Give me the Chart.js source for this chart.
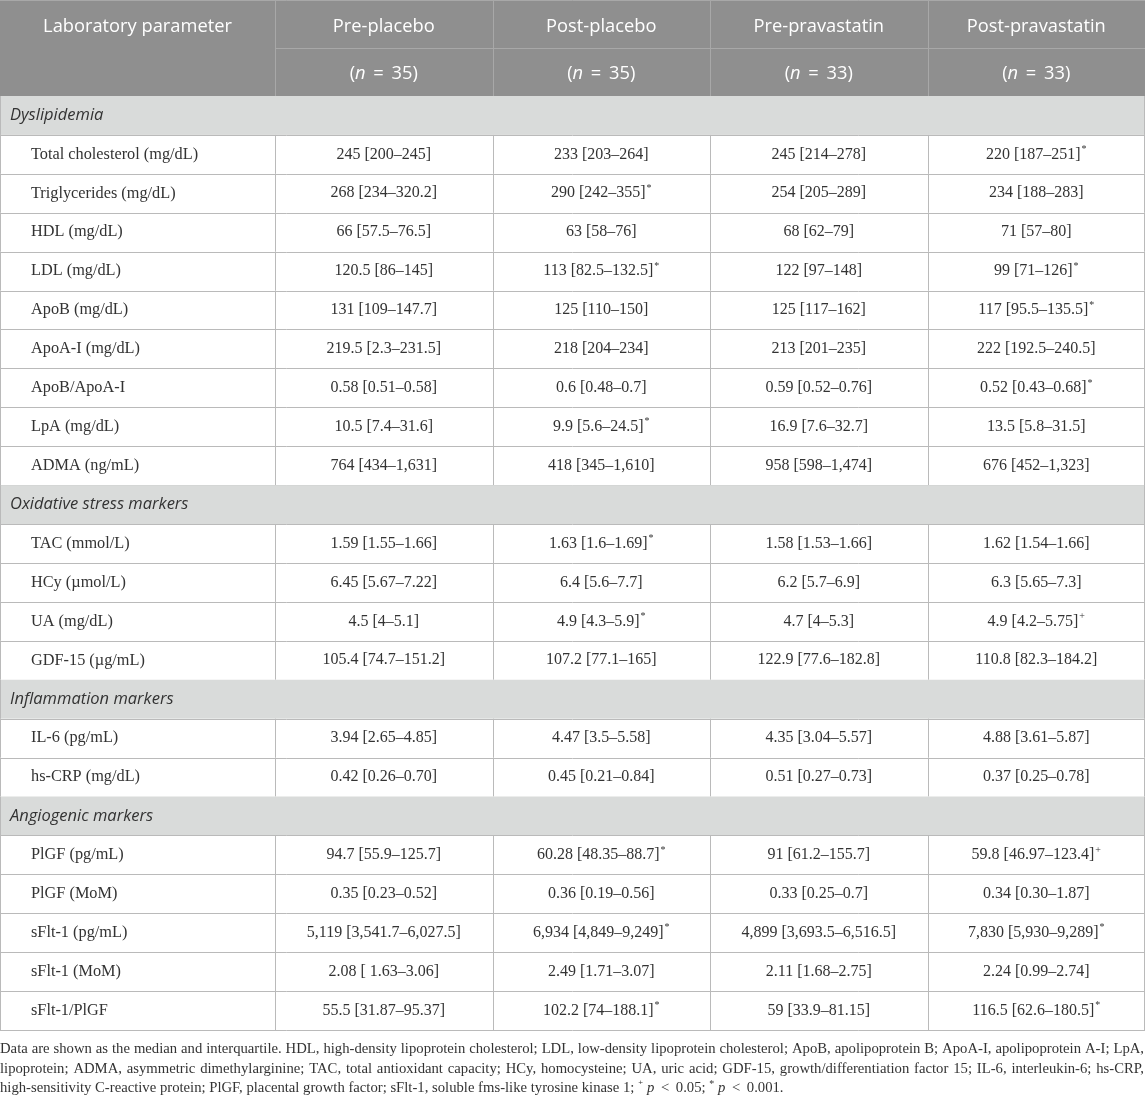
<!DOCTYPE html>
<html>
<head>
<meta charset="utf-8">
<script src="https://cdn.jsdelivr.net/npm/chart.js@4/dist/chart.umd.min.js"></script>
<style>
html,body{margin:0;padding:0;background:#fff;}
canvas{display:block;}
</style>
</head>
<body>
<canvas id="c" width="1145" height="1097" style="width:1145px;height:1097px"></canvas>
<script>
// ---------- DATA ----------
const groups = ['Pre-placebo', 'Post-placebo', 'Pre-pravastatin', 'Post-pravastatin'];
const groupN = [35, 35, 33, 33];
const sectionRows = ['Dyslipidemia', 'Oxidative stress markers', 'Inflammation markers', 'Angiogenic markers'];
const rowLabels = [
  'Dyslipidemia',
  'Total cholesterol (mg/dL)', 'Triglycerides (mg/dL)', 'HDL (mg/dL)', 'LDL (mg/dL)', 'ApoB (mg/dL)',
  'ApoA-I (mg/dL)', 'ApoB/ApoA-I', 'LpA (mg/dL)', 'ADMA (ng/mL)',
  'Oxidative stress markers',
  'TAC (mmol/L)', 'HCy (µmol/L)', 'UA (mg/dL)', 'GDF-15 (µg/mL)',
  'Inflammation markers',
  'IL-6 (pg/mL)', 'hs-CRP (mg/dL)',
  'Angiogenic markers',
  'PlGF (pg/mL)', 'PlGF (MoM)', 'sFlt-1 (pg/mL)', 'sFlt-1 (MoM)', 'sFlt-1/PlGF'
];
const prePlacebo = [
  null,
  '245 [200–245]', '268 [234–320.2]', '66 [57.5–76.5]', '120.5 [86–145]', '131 [109–147.7]',
  '219.5 [2.3–231.5]', '0.58 [0.51–0.58]', '10.5 [7.4–31.6]', '764 [434–1,631]',
  null,
  '1.59 [1.55–1.66]', '6.45 [5.67–7.22]', '4.5 [4–5.1]', '105.4 [74.7–151.2]',
  null,
  '3.94 [2.65–4.85]', '0.42 [0.26–0.70]',
  null,
  '94.7 [55.9–125.7]', '0.35 [0.23–0.52]', '5,119 [3,541.7–6,027.5]', '2.08 [ 1.63–3.06]', '55.5 [31.87–95.37]'
];
const postPlacebo = [
  null,
  '233 [203–264]', '290 [242–355]*', '63 [58–76]', '113 [82.5–132.5]*', '125 [110–150]',
  '218 [204–234]', '0.6 [0.48–0.7]', '9.9 [5.6–24.5]*', '418 [345–1,610]',
  null,
  '1.63 [1.6–1.69]*', '6.4 [5.6–7.7]', '4.9 [4.3–5.9]*', '107.2 [77.1–165]',
  null,
  '4.47 [3.5–5.58]', '0.45 [0.21–0.84]',
  null,
  '60.28 [48.35–88.7]*', '0.36 [0.19–0.56]', '6,934 [4,849–9,249]*', '2.49 [1.71–3.07]', '102.2 [74–188.1]*'
];
const prePravastatin = [
  null,
  '245 [214–278]', '254 [205–289]', '68 [62–79]', '122 [97–148]', '125 [117–162]',
  '213 [201–235]', '0.59 [0.52–0.76]', '16.9 [7.6–32.7]', '958 [598–1,474]',
  null,
  '1.58 [1.53–1.66]', '6.2 [5.7–6.9]', '4.7 [4–5.3]', '122.9 [77.6–182.8]',
  null,
  '4.35 [3.04–5.57]', '0.51 [0.27–0.73]',
  null,
  '91 [61.2–155.7]', '0.33 [0.25–0.7]', '4,899 [3,693.5–6,516.5]', '2.11 [1.68–2.75]', '59 [33.9–81.15]'
];
const postPravastatin = [
  null,
  '220 [187–251]*', '234 [188–283]', '71 [57–80]', '99 [71–126]*', '117 [95.5–135.5]*',
  '222 [192.5–240.5]', '0.52 [0.43–0.68]*', '13.5 [5.8–31.5]', '676 [452–1,323]',
  null,
  '1.62 [1.54–1.66]', '6.3 [5.65–7.3]', '4.9 [4.2–5.75]⁺', '110.8 [82.3–184.2]',
  null,
  '4.88 [3.61–5.87]', '0.37 [0.25–0.78]',
  null,
  '59.8 [46.97–123.4]⁺', '0.34 [0.30–1.87]', '7,830 [5,930–9,289]*', '2.24 [0.99–2.74]', '116.5 [62.6–180.5]*'
];
const headerTitle = 'Laboratory parameter';
const footnoteLines = [
  'Data are shown as the median and interquartile. HDL, high-density lipoprotein cholesterol; LDL, low-density lipoprotein cholesterol; ApoB, apolipoprotein B; ApoA-I, apolipoprotein A-I; LpA,',
  'lipoprotein; ADMA, asymmetric dimethylarginine; TAC, total antioxidant capacity; HCy, homocysteine; UA, uric acid; GDF-15, growth/differentiation factor 15; IL-6, interleukin-6; hs-CRP,',
  'high-sensitivity C-reactive protein; PlGF, placental growth factor; sFlt-1, soluble fms-like tyrosine kinase 1; {s:⁺} {i:p} \u2009<\u2009 0.05; {s:*} {i:p} \u2009<\u2009 0.001.'
];
const columns = [prePlacebo, postPlacebo, prePravastatin, postPravastatin];

// ---------- STYLE ----------
const SERIF = '"Liberation Serif", "DejaVu Serif", serif';
const SANS = '"Open Sans", "Noto Sans", sans-serif';
const C = {
  headBg: '#8f8f8f', headLine: '#a8a8a8', headText: '#ffffff',
  secBg: '#d9dbda', grid: '#bababa', text: '#333333'
};
const F = { data: 16, label: 16.3, sec: 16.5, head: 18.3, foot: 14.7 };

function px(v) { return Math.round(v) + 0.5; }

function drawValue(ctx, str, cx, cy) {
  let mark = '';
  let main = str;
  const last = str.slice(-1);
  if (last === '*' || last === '⁺') { mark = last === '⁺' ? '+' : '*'; main = str.slice(0, -1); }
  ctx.font = F.data + 'px ' + SERIF;
  const w1 = ctx.measureText(main).width;
  ctx.font = '10px ' + SERIF;
  const w2 = mark ? ctx.measureText(mark).width + 1 : 0;
  const x0 = cx - (w1 + w2) / 2;
  ctx.textAlign = 'left';
  ctx.textBaseline = 'middle';
  ctx.fillStyle = C.text;
  ctx.font = F.data + 'px ' + SERIF;
  ctx.fillText(main, x0, cy);
  if (mark) {
    ctx.font = '10px ' + SERIF;
    ctx.fillText(mark, x0 + w1 + 1, cy - 5);
  }
}

function parseSegs(word) {
  const segs = [];
  const re = /\{([is]):([^}]*)\}/g;
  let last = 0, m;
  while ((m = re.exec(word))) {
    if (m.index > last) segs.push({ t: word.slice(last, m.index), st: 'n' });
    segs.push({ t: m[2], st: m[1] });
    last = re.lastIndex;
  }
  if (last < word.length) segs.push({ t: word.slice(last), st: 'n' });
  return segs;
}
function segFont(st) {
  if (st === 'i') return 'italic ' + F.foot + 'px ' + SERIF;
  if (st === 's') return '10px ' + SERIF;
  return F.foot + 'px ' + SERIF;
}
function drawFootLine(ctx, line, x0, x1, y, justify) {
  const words = line.split(' ').map(parseSegs);
  const widths = words.map(ws => ws.reduce((a, s) => { ctx.font = segFont(s.st); return a + ctx.measureText(s.t).width; }, 0));
  const total = widths.reduce((a, b) => a + b, 0);
  ctx.font = segFont('n');
  const sp = ctx.measureText(' ').width;
  const gap = justify ? (x1 - x0 - total) / (words.length - 1) : sp;
  let x = x0;
  ctx.textAlign = 'left';
  ctx.textBaseline = 'alphabetic';
  ctx.fillStyle = C.text;
  words.forEach((ws) => {
    ws.forEach(s => {
      ctx.font = segFont(s.st);
      ctx.fillText(s.t, x, s.st === 's' ? y - 5 : y);
      x += ctx.measureText(s.t).width;
    });
    x += gap;
  });
}

const tablePlugin = {
  id: 'tableDraw',
  afterDraw(chart) {
    const { ctx, chartArea: ca, scales: { x, y } } = chart;
    const W = ca.right;
    const rowH = y.getPixelForValue(1) - y.getPixelForValue(0);
    const colW = x.getPixelForValue(1) - x.getPixelForValue(0);
    const bounds = [ca.left];
    groups.forEach((g, i) => bounds.push(x.getPixelForValue(i) + colW / 2));
    ctx.save();

    // header
    const headH = ca.top;
    ctx.fillStyle = C.headBg;
    ctx.fillRect(0, 0, W, headH);
    ctx.strokeStyle = C.headLine;
    ctx.lineWidth = 1;
    ctx.beginPath();
    bounds.slice(0, -1).forEach(b => { ctx.moveTo(px(b), 0); ctx.lineTo(px(b), headH); });
    ctx.moveTo(ca.left, px(headH / 2)); ctx.lineTo(W, px(headH / 2));
    ctx.moveTo(0, 0.5); ctx.lineTo(W, 0.5);
    ctx.stroke();
    ctx.fillStyle = C.headText;
    ctx.textBaseline = 'middle';
    ctx.textAlign = 'center';
    const r1 = headH / 4 + 2.5, r2 = headH * 3 / 4 + 1.5;
    ctx.font = F.head + 'px ' + SANS;
    ctx.fillText(headerTitle, ca.left / 2, r1);
    groups.forEach((g, i) => {
      const cx = x.getPixelForValue(i);
      ctx.font = F.head + 'px ' + SANS;
      ctx.textAlign = 'center';
      ctx.fillText(g, cx, r1);
      const a = '(', b = 'n', c = ' \u2009= \u2009' + groupN[i] + ')';
      ctx.font = F.head + 'px ' + SANS; const wa = ctx.measureText(a).width, wc = ctx.measureText(c).width;
      ctx.font = 'italic ' + F.head + 'px ' + SANS; const wb = ctx.measureText(b).width;
      const x0 = cx - (wa + wb + wc) / 2;
      ctx.textAlign = 'left';
      ctx.font = F.head + 'px ' + SANS; ctx.fillText(a, x0, r2);
      ctx.font = 'italic ' + F.head + 'px ' + SANS; ctx.fillText(b, x0 + wa, r2);
      ctx.font = F.head + 'px ' + SANS; ctx.fillText(c, x0 + wa + wb, r2);
    });

    // body
    rowLabels.forEach((lab, i) => {
      const cy = y.getPixelForValue(i);
      const top = cy - rowH / 2, bot = cy + rowH / 2;
      const isSec = sectionRows.includes(lab);
      if (isSec) {
        ctx.fillStyle = C.secBg;
        ctx.fillRect(0, top, W, rowH);
      }
      ctx.strokeStyle = C.grid;
      ctx.beginPath();
      ctx.moveTo(0, px(bot)); ctx.lineTo(W, px(bot));
      ctx.moveTo(0.5, top); ctx.lineTo(0.5, bot);
      ctx.moveTo(W - 0.5, top); ctx.lineTo(W - 0.5, bot);
      if (!isSec) {
        bounds.slice(0, -1).forEach(b => { ctx.moveTo(px(b), top); ctx.lineTo(px(b), bot); });
      }
      ctx.stroke();
      ctx.fillStyle = C.text;
      ctx.textAlign = 'left';
      ctx.textBaseline = 'middle';
      if (isSec) {
        ctx.font = 'italic ' + F.sec + 'px ' + SANS;
        ctx.fillText(lab, 10, cy);
      } else {
        ctx.font = F.label + 'px ' + SERIF;
        ctx.fillText(lab, 31, cy);
      }
    });

    // values from dataset elements
    chart.data.datasets.forEach((ds, di) => {
      const meta = chart.getDatasetMeta(di);
      meta.data.forEach((el, j) => {
        const raw = ds.data[j];
        if (!raw || !raw.label) return;
        drawValue(ctx, raw.label, el.x, el.y);
      });
    });

    // footnote
    const fy0 = ca.bottom + 23;
    footnoteLines.forEach((ln, i) => {
      drawFootLine(ctx, ln, 0, W - 1, fy0 + i * 19.6, i < footnoteLines.length - 1);
    });
    ctx.restore();
  }
};

const datasets = columns.map((col, ci) => ({
  label: groups[ci],
  data: col.map((v, ri) => v ? { x: groups[ci], y: rowLabels[ri], label: v } : null).filter(Boolean),
  pointRadius: 0,
  pointHoverRadius: 0,
  showLine: false
}));

new Chart(document.getElementById('c'), {
  type: 'scatter',
  data: { datasets },
  options: {
    responsive: false,
    animation: false,
    devicePixelRatio: 1,
    events: [],
    layout: { padding: { left: 275, top: 96, right: 0, bottom: 67 } },
    plugins: { legend: { display: false }, tooltip: { enabled: false } },
    scales: {
      x: { type: 'category', labels: groups, offset: true, display: false },
      y: { type: 'category', labels: rowLabels, offset: true, display: false }
    }
  },
  plugins: [tablePlugin]
});
</script>
</body>
</html>
